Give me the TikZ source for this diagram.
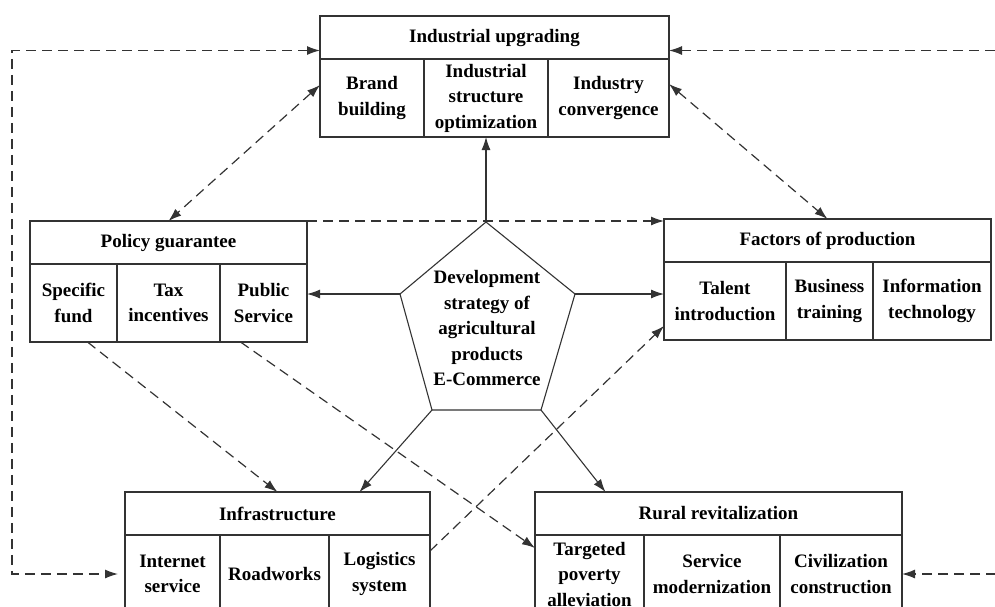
\documentclass[tikz,border=0pt]{standalone}
\usepackage{fontspec}
\setmainfont{Liberation Serif}
\usetikzlibrary{positioning,arrows.meta}

\begin{document}
\begin{tikzpicture}[
    x=1pt, y=-1pt,
    font=\fontsize{19}{25.5}\selectfont\bfseries,
    node distance=0pt,
    >={Latex[length=13pt,width=9pt]},
    head/.style={rectangle, draw=black!80, line width=1.3pt, minimum height=43pt, inner sep=0pt, outer sep=0pt, anchor=north west},
    cell/.style={rectangle, draw=black!80, line width=1.3pt, minimum height=78pt, inner sep=1pt, outer sep=0pt, align=center},
    arrow/.style={->, line width=1.1pt, black!80},
    dashline/.style={line width=1.2pt, black!80, dash pattern=on 10pt off 6pt}
]
\useasboundingbox (0,0) rectangle (995,606);
\clip (0,0) rectangle (995,606);

% Industrial upgrading
\node[head, minimum width=349pt] (upg) at (320,16) {Industrial upgrading};
\node[cell, minimum width=104pt, below right=0pt and 0pt of upg.south west] (brd) {Brand\\building};
\node[cell, minimum width=124pt, right=of brd] (iso) {Industrial\\structure\\optimization};
\node[cell, minimum width=121pt, right=of iso] (icv) {Industry\\convergence};

% Policy guarantee
\node[head, minimum width=277pt] (pol) at (30,221) {Policy guarantee};
\node[cell, minimum width=87pt, below right=0pt and 0pt of pol.south west] (spe) {Specific\\fund};
\node[cell, minimum width=103pt, right=of spe] (tax) {Tax\\incentives};
\node[cell, minimum width=87pt, right=of tax] (pub) {Public\\Service};

% Factors of production
\node[head, minimum width=327pt] (fac) at (664,219) {Factors of production};
\node[cell, minimum width=122pt, below right=0pt and 0pt of fac.south west] (tal) {Talent\\introduction};
\node[cell, minimum width=87pt, right=of tal] (bus) {Business\\training};
\node[cell, minimum width=118pt, right=of bus] (itc) {Information\\technology};

% Infrastructure
\node[head, minimum width=305pt] (inf) at (125,492) {Infrastructure};
\node[cell, minimum width=95pt, below right=0pt and 0pt of inf.south west] (net) {Internet\\service};
\node[cell, minimum width=109pt, right=of net] (rdw) {Roadworks};
\node[cell, minimum width=101pt, right=of rdw] (log) {Logistics\\system};

% Rural revitalization
\node[head, minimum width=367pt] (rur) at (535,492) {Rural revitalization};
\node[cell, minimum width=109pt, below right=0pt and 0pt of rur.south west] (tar) {Targeted\\poverty\\alleviation};
\node[cell, minimum width=136pt, right=of tar] (ser) {Service\\modernization};
\node[cell, minimum width=122pt, right=of ser] (civ) {Civilization\\construction};

% Development strategy
\coordinate (pt) at (486,222);
\coordinate (pl) at (400,294);
\coordinate (pr) at (575,294);
\coordinate (pbr) at (541,410);
\coordinate (pbl) at (432,410);
\draw[line width=1.1pt, black!80] (pt) -- (pr) -- (pbr) -- (pbl) -- (pl) -- cycle;
\node[align=center] (core) at (487,328) {Development\\strategy of\\agricultural\\products\\E-Commerce};

\draw[arrow] (pt) -- (iso);
\draw[arrow] (pl) -- (pl -| pub.east);
\draw[arrow] (pr) -- (pr -| tal.west);
\draw[arrow] (pbl) -- ([xshift=82pt]inf.north);
\draw[arrow] (pbr) -- ([xshift=-113pt]rur.north);

% Interactions
\draw[dashline, <->] ([yshift=13pt]brd.west) -- (pol.north);
\draw[dashline, <->] ([yshift=14pt]icv.east) -- (fac.north);
\draw[dashline, ->] (pol.north east) -- (pol.north east -| fac.west);
\draw[dashline, ->] ([xshift=14pt]spe.south) -- (inf.north);
\draw[dashline, ->] ([xshift=-23pt]pub.south) -- ([yshift=26pt]tar.west);
\draw[dashline, ->] ([yshift=23pt]log.east) -- ([yshift=-25pt]tal.west);
\draw[dashline, <->] ([yshift=-13pt]upg.west) -- ++(-308,0) |- ([xshift=-7pt]net.west);
\draw[dashline, <->] ([yshift=-13pt]upg.east) -- ++(340,0) |- (civ.east);

\end{tikzpicture}
\end{document}
